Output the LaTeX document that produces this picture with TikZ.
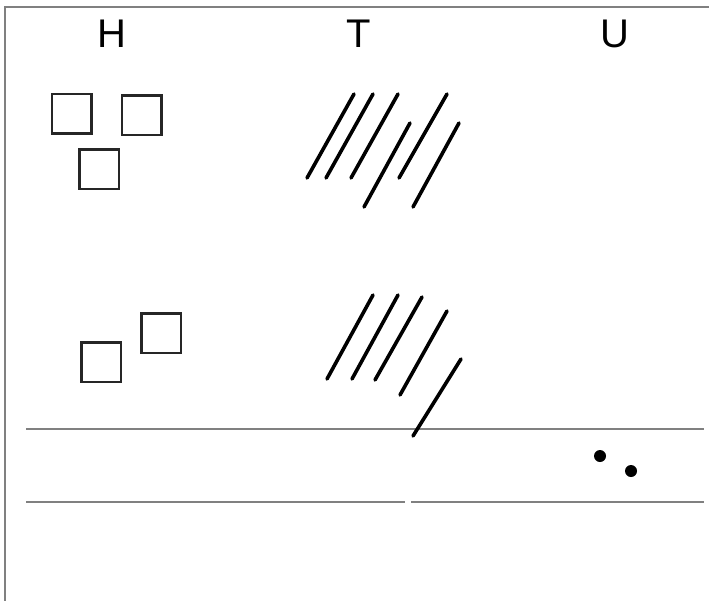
\documentclass[tikz,border=0pt]{standalone}
\usepackage{fontspec}
\setmainfont{Liberation Sans}
\usetikzlibrary{positioning}

\begin{document}
\begin{tikzpicture}[
        x=1pt, y=-1pt,
        head/.style={anchor=base, inner sep=0pt, font=\fontsize{40}{40}\selectfont},
        tile/.style={rectangle, draw=black!85, line width=2.5pt, minimum size=39.5pt, inner sep=0pt},
        tally/.style={line width=3.6pt, line cap=round},
        rule/.style={draw=black!50, line width=1.8pt},
        bead/.style={circle, fill=black, minimum size=12pt, inner sep=0pt}
    ]
        \useasboundingbox (0,0) rectangle (709,600);
        % frame
        \draw[rule] (5,602) -- (5,7) -- (711,7);

        % column heads
        \node[head] (hund) at (112,47) {H};
        \node[head] (tens) at (359,47) {T};
        \node[head] (unit) at (615,47) {U};

        % first number
        \node[tile] (a1) at (71.5,113.5) {};
        \node[tile] (a2) at (141.5,115) {};
        \node[tile] (a3) at (99,169) {};
        \draw[tally] (307,178) -- (354,94);
        \draw[tally] (326,178) -- (373,94);
        \draw[tally] (351,178) -- (398,94);
        \draw[tally] (364,207) -- (410,123);
        \draw[tally] (399,178) -- (447,94);
        \draw[tally] (413,207) -- (459,123);

        % second number
        \node[tile] (b1) at (101,362) {};
        \node[tile] (b2) at (161,333) {};
        \draw[tally] (327,379) -- (373,295);
        \draw[tally] (352,379) -- (398,295);
        \draw[tally] (375,380) -- (422,297);
        \draw[tally] (400,395) -- (447,311);

        % answer line
        \draw[rule] (26,429) -- (704,429);
        \draw[rule] (26,502) -- (405,502);
        \draw[rule] (411,502) -- (704,502);
        \draw[tally] (413,436) -- (461,359);
        \node[bead] (u1) at (600,456) {};
        \node[bead] (u2) at (631,471) {};
    \end{tikzpicture}
\end{document}
